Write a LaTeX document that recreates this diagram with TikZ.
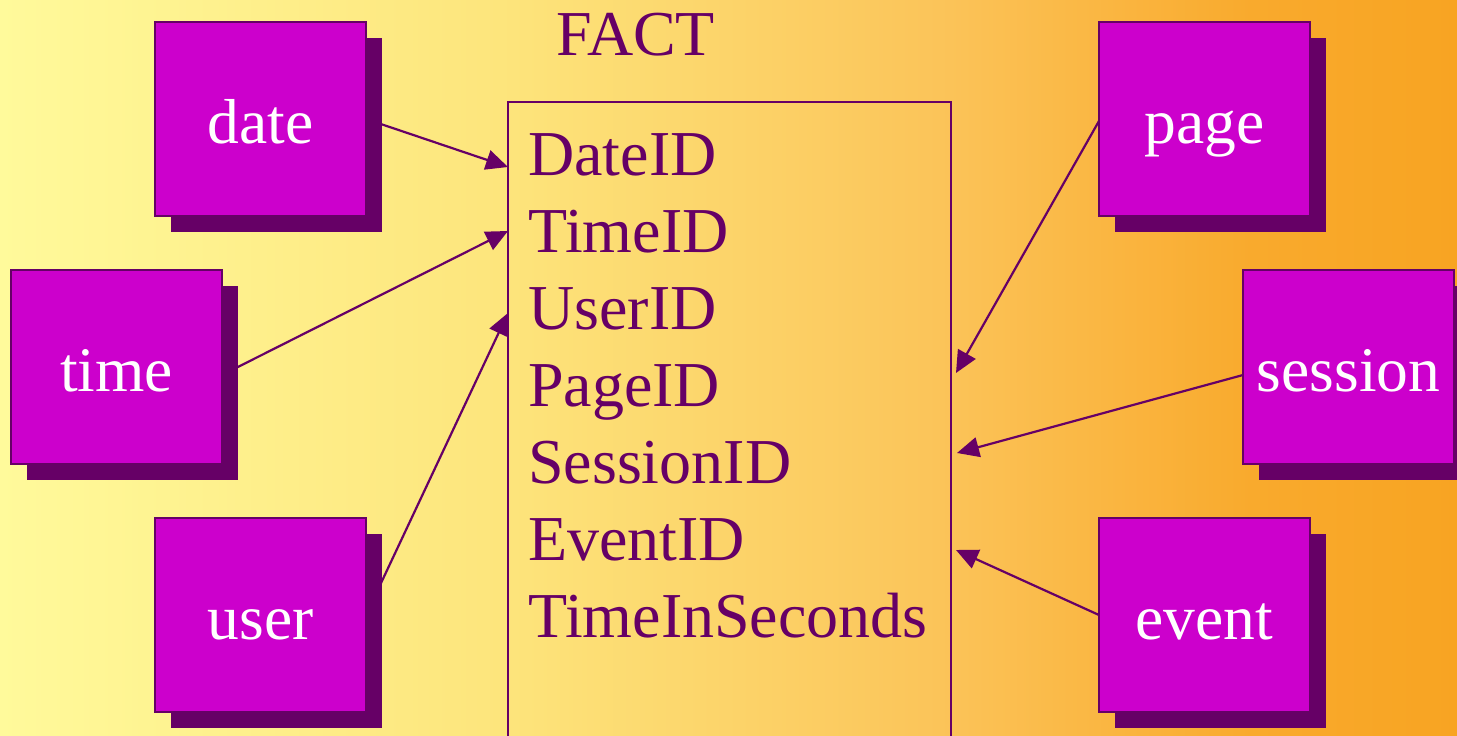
\documentclass[tikz,border=0pt]{standalone}
\usepackage{fontspec}
\setmainfont{Liberation Serif}
\usetikzlibrary{shadows,arrows.meta,calc}

\definecolor{plum}{RGB}{102,0,102}
\definecolor{boxfill}{RGB}{204,0,204}
\definecolor{bgA}{RGB}{255,250,155}
\definecolor{bgB}{RGB}{253,229,124}
\definecolor{bgC}{RGB}{251,195,88}
\definecolor{bgD}{RGB}{249,170,45}
\definecolor{bgE}{RGB}{248,164,34}

\pgfdeclarelayer{back}
\pgfdeclarelayer{mid}
\pgfsetlayers{back,mid,main}

\tikzset{
  dimbox/.style={rectangle, draw=plum, line width=2.4pt, fill=boxfill,
    text=white, minimum width=211pt, minimum height=194pt, inner sep=0pt,
    outer sep=0pt, text height=48pt, text depth=0pt,
    font=\fontsize{63.5}{76}\selectfont,
    drop shadow={shadow xshift=16pt, shadow yshift=-16pt, fill=plum, opacity=1}},
  factbox/.style={rectangle, draw=plum, line width=2.2pt, minimum width=443pt,
    minimum height=660pt, inner sep=0pt, outer sep=0pt},
  fieldtext/.style={anchor=base west, text=plum, inner sep=0pt,
    font=\fontsize{64}{77}\selectfont},
  link/.style={draw=plum, line width=2.2pt, -{Triangle[length=22pt,width=20pt]}}
}

\begin{document}
\begin{tikzpicture}[x=1pt,y=-1pt]
  \useasboundingbox (0,0) rectangle (1457,736);

  % background gradient, yellow to orange
  \begin{pgfonlayer}{back}
    \fill[left color=bgA, right color=bgB] (0,-1) rectangle (501,737);
    \fill[left color=bgB, right color=bgC] (500,-1) rectangle (951,737);
    \fill[left color=bgC, right color=bgD] (950,-1) rectangle (1251,737);
    \fill[left color=bgD, right color=bgE] (1250,-1) rectangle (1458,737);
  \end{pgfonlayer}

  % fact table
  \node[fieldtext] (title) at (556,55) {FACT};
  \node[factbox, anchor=north west] (fact) at (508,102) {};
  \foreach \t [count=\i] in {DateID,TimeID,UserID,PageID,SessionID,EventID,TimeInSeconds}
    \node[fieldtext] (f\i) at (528,{175+77*(\i-1)}) {\t};

  % dimension tables
  \node[dimbox] (date)    at (260.5,119)  {date};
  \node[dimbox] (time)    at (116.5,367)  {time};
  \node[dimbox] (user)    at (260.5,615)  {user};
  \node[dimbox] (page)    at (1204.5,119) {page};
  \node[dimbox] (session) at (1348.5,367) {session};
  \node[dimbox] (event)   at (1204.5,615) {event};

  % references into the fact table
  \begin{pgfonlayer}{mid}
    \draw[link] (date.east) -- ($(fact.north west)+(0,65)$);
    \draw[link] ($(time.east)+(0,8)$) -- ($(fact.north west)+(0,129)$);
    \draw[link] (user.east) -- ($(fact.north west)+(0,211)$);
    \draw[link] ($(page.west)+(0,2)$) -- ($(fact.north east)+(5,271)$);
    \draw[link] ($(session.west)+(0,8)$) -- ($(fact.north east)+(6,351)$);
    \draw[link] (event.west) -- ($(fact.north east)+(5,448)$);
  \end{pgfonlayer}
\end{tikzpicture}
\end{document}
